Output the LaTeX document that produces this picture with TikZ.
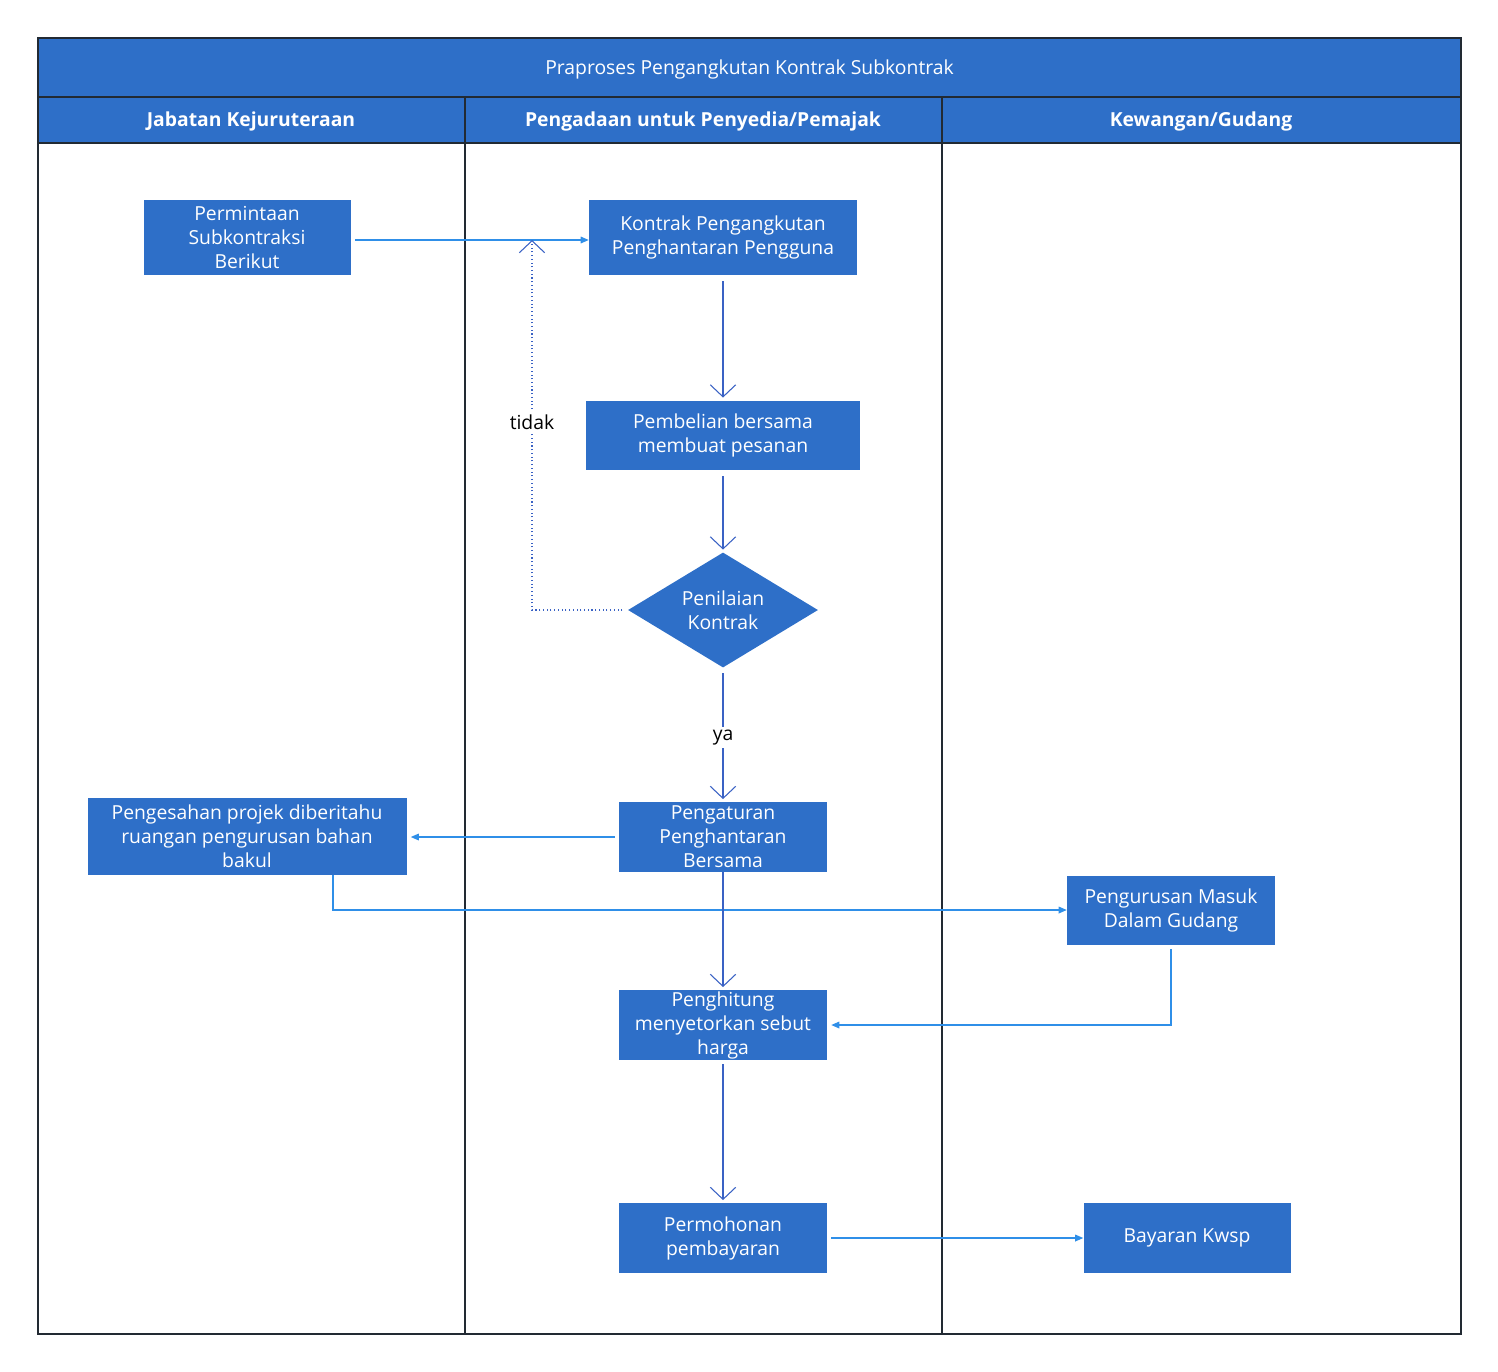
\documentclass[tikz,border=0pt]{standalone}
\usepackage{fontspec}
\setmainfont{Open Sans}
\usetikzlibrary{shapes.geometric,arrows.meta}
\definecolor{box}{HTML}{2E6FC8}
\definecolor{lnk}{HTML}{2F8FE8}
\definecolor{dk}{HTML}{3A62C4}
\definecolor{frm}{HTML}{222A33}
\begin{document}
\begin{tikzpicture}[x=0.75pt,y=-0.75pt,
 bx/.style={fill=box,draw=none,text=white,align=center,font=\fontsize{14.5}{18}\selectfont,inner sep=0pt},
 ln/.style={draw=lnk,line width=0.8pt,-{Triangle[length=6pt,width=5pt]}},
 vt/.style={draw=dk,line width=0.8pt,-{Straight Barb[length=9pt,width=19pt,line width=0.8pt]},shorten >=2pt},
 hd/.style={text=white,font=\fontsize{14.5}{18}\selectfont\bfseries}]
\useasboundingbox (0,0) rectangle (1498,1371);
\fill[box] (38,38) rectangle (1461,143);
\draw[frm,line width=2pt] (38,38) rectangle (1461,1334);
\draw[frm,line width=2pt] (38,97) -- (1461,97);
\draw[frm,line width=2pt] (38,143) -- (1461,143);
\draw[frm,line width=2pt] (465,97) -- (465,1334);
\draw[frm,line width=2pt] (942,97) -- (942,1334);
\node[text=white,font=\fontsize{14.5}{18}\selectfont] (title) at (749.5,69) {Praproses Pengangkutan Kontrak Subkontrak};
\node[hd] (h1) at (251,121) {Jabatan Kejuruteraan};
\node[hd] (h2) at (703,121) {Pengadaan untuk Penyedia/Pemajak};
\node[hd] (h3) at (1201,121) {Kewangan/Gudang};

\node[bx,minimum width=155.25pt,minimum height=56.25pt] (a) at (247,237) {Permintaan\\Subkontraksi\\Berikut};
\node[bx,minimum width=201pt,minimum height=56.25pt] (b) at (723,237) {Kontrak Pengangkutan\\Penghantaran Pengguna};
\node[bx,minimum width=205.5pt,minimum height=51.75pt] (c) at (723,435) {Pembelian bersama\\membuat pesanan};
\node[bx,diamond,aspect=1.65,minimum width=142.5pt,minimum height=86.25pt] (d) at (723,610) {Penilaian\\Kontrak};
\node[bx,minimum width=156pt,minimum height=52.5pt] (e) at (723,837) {Pengaturan\\Penghantaran\\Bersama};
\node[bx,minimum width=239.25pt,minimum height=57.75pt] (f) at (247,836) {Pengesahan projek diberitahu\\ruangan pengurusan bahan\\bakul};
\node[bx,minimum width=156pt,minimum height=51.75pt] (g) at (1171,910) {Pengurusan Masuk\\Dalam Gudang};
\node[bx,minimum width=156pt,minimum height=52.5pt] (h) at (723,1025) {Penghitung\\menyetorkan sebut\\harga};
\node[bx,minimum width=156pt,minimum height=52.5pt] (i) at (723,1238) {Permohonan\\pembayaran};
\node[bx,minimum width=155.25pt,minimum height=52.5pt] (j) at (1187,1238) {Bayaran Kwsp};

\coordinate (t) at (532,240);
\draw[ln] ([xshift=3pt]a.east|-0,240) -- (b.west|-0,240);
\draw[vt] ([yshift=-5pt]b.south) -- (c.north);
\draw[vt] ([yshift=-5pt]c.south) -- (d.north);
\draw[vt] ([yshift=-4pt]d.south) -- node[fill=white,text=black,font=\fontsize{14.5}{18}\selectfont,inner sep=2pt]{ya} (e.north);
\draw[dk,line width=0.8pt,dotted,-{Straight Barb[length=9pt,width=19pt,line width=0.8pt]}] ([xshift=-4pt]d.west) -| (t);
\node[fill=white,font=\fontsize{14.5}{18}\selectfont,inner sep=2pt] (tl) at (532,422) {tidak};
\draw[ln] ([xshift=-3pt]e.west) -- ([xshift=3pt]f.east|-0,837);
\draw[ln] (333,875) |- (g.west);
\draw[vt] (e.south) -- (h.north);
\draw[ln] ([yshift=-3pt]g.south) |- ([xshift=3pt]h.east);
\draw[vt] ([yshift=-3pt]h.south) -- (i.north);
\draw[ln] ([xshift=3pt]i.east) -- (j.west);
\end{tikzpicture}
\end{document}
